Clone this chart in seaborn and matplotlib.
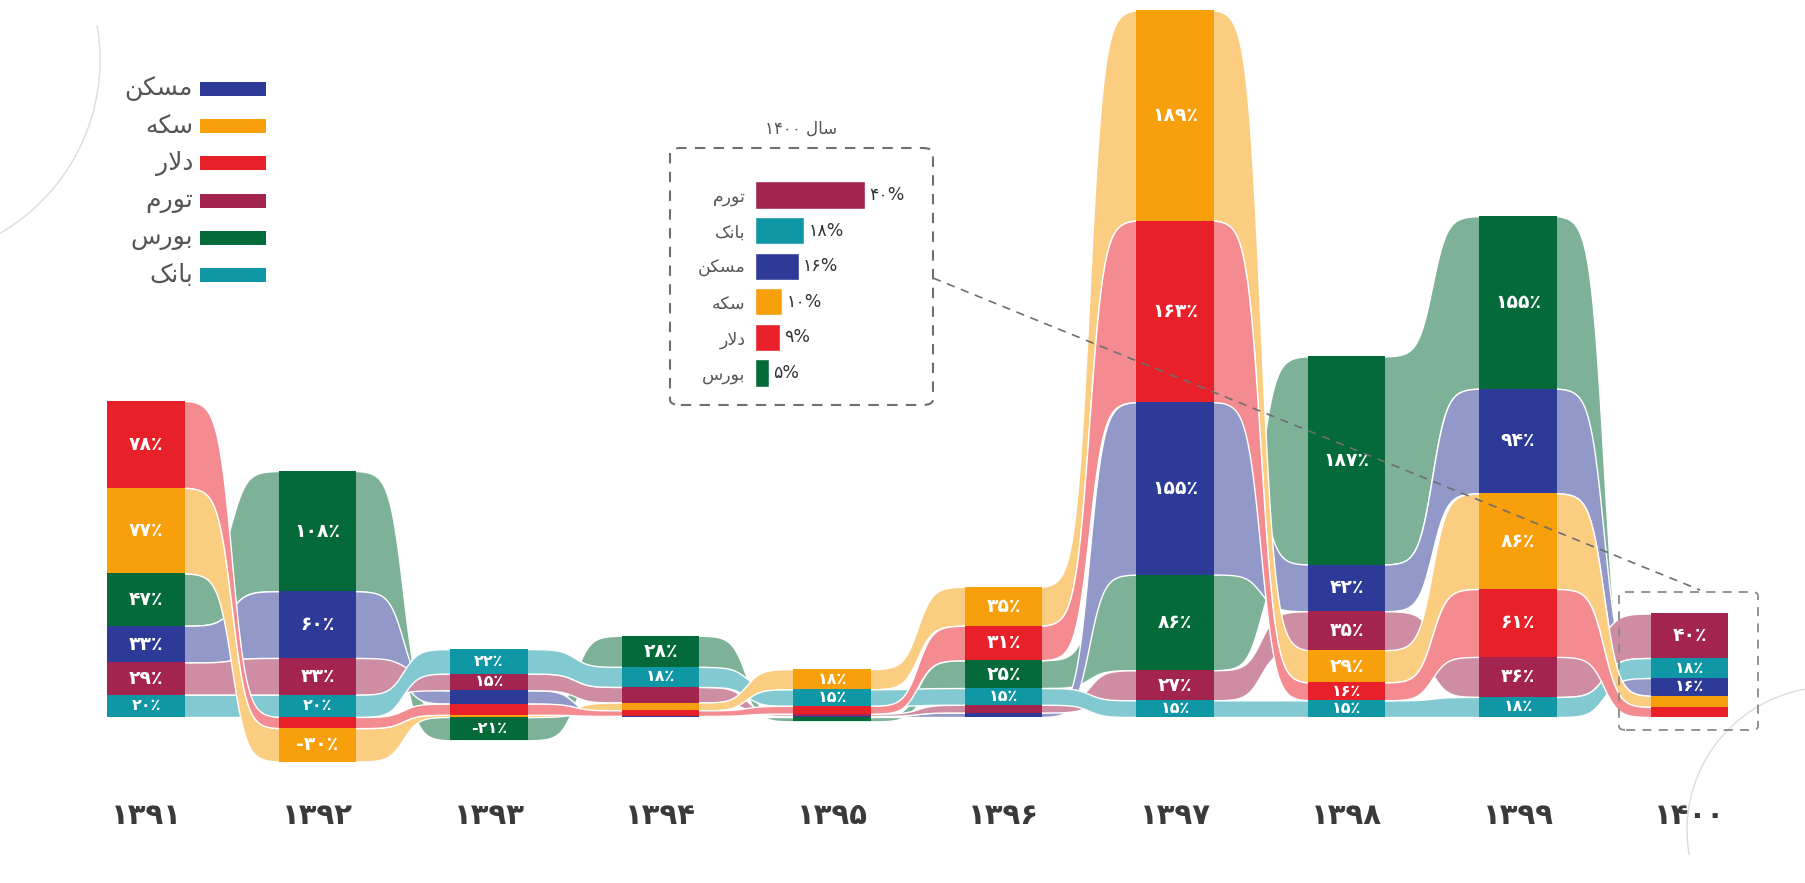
import numpy as np
import pandas as pd
import matplotlib
matplotlib.use("Agg")
import matplotlib.pyplot as plt
import seaborn as sns
from matplotlib.patches import FancyBboxPatch, Rectangle, Arc
from matplotlib.lines import Line2D

# ── DATA ─────────────────────────────────────────────────────────────────────
years = [1391, 1392, 1393, 1394, 1395, 1396, 1397, 1398, 1399, 1400]
assets = ['مسکن', 'سکه', 'دلار', 'تورم', 'بورس', 'بانک']
colors = ['#2E3A97', '#F89F0C', '#E8202A', '#A3244F', '#056A39', '#1097A6']

maskan = [33, 60, 12, 1, 1, 4, 155, 42, 94, 16]
sekke = [77, -30, 2, 7, 18, 35, 189, 29, 86, 10]
dollar = [78, -10, 10, 5, 7, 31, 163, 16, 61, 9]
tavarom = [29, 33, 15, 14, 2, 7, 27, 35, 36, 40]
bourse = [47, 108, -21, 28, -4, 25, 86, 187, 155, 0]
bank = [20, 20, 22, 18, 15, 15, 15, 15, 18, 18]

inset_names = ['تورم', 'بانک', 'مسکن', 'سکه', 'دلار', 'بورس']
inset_values = [40, 18, 16, 10, 9, 5]
inset_colors = ['#A3244F', '#1097A6', '#2E3A97', '#F89F0C', '#E8202A', '#056A39']

# ── LAYOUT (pixels) ──────────────────────────────────────────────────────────
W, H, DPI = 1806, 883, 100
X0, DX = 146, 171.5          # pixel of first year, pixels per year
Y0, DY = 717, 1.113          # pixel of zero line, pixels per percent
BAR_W = 0.45

# ── PERSIAN TEXT HELPERS ─────────────────────────────────────────────────────
FORMS = {  # isolated, final, initial, medial
    'ا': ('\uFE8D', '\uFE8E', None, None),
    'ب': ('\uFE8F', '\uFE90', '\uFE91', '\uFE92'),
    'ت': ('\uFE95', '\uFE96', '\uFE97', '\uFE98'),
    'د': ('\uFEA9', '\uFEAA', None, None),
    'ر': ('\uFEAD', '\uFEAE', None, None),
    'س': ('\uFEB1', '\uFEB2', '\uFEB3', '\uFEB4'),
    'ک': ('\uFB8E', '\uFB8F', '\uFB90', '\uFB91'),
    'ل': ('\uFEDD', '\uFEDE', '\uFEDF', '\uFEE0'),
    'م': ('\uFEE1', '\uFEE2', '\uFEE3', '\uFEE4'),
    'ن': ('\uFEE5', '\uFEE6', '\uFEE7', '\uFEE8'),
    'ه': ('\uFEE9', '\uFEEA', '\uFEEB', '\uFEEC'),
    'و': ('\uFEED', '\uFEEE', None, None),
    '\uFEFB': ('\uFEFB', '\uFEFC', None, None),
}


def fa(text):
    # join letters with presentation forms, then reverse for left-to-right drawing
    chars = list(text.replace('لا', '\uFEFB'))
    out = []
    for k, c in enumerate(chars):
        if c not in FORMS:
            out.append(c)
            continue
        prev = chars[k - 1] if k > 0 else None
        nxt = chars[k + 1] if k + 1 < len(chars) else None
        join_prev = prev in FORMS and FORMS[prev][2] is not None
        join_next = FORMS[c][2] is not None and nxt in FORMS
        iso, fin, ini, med = FORMS[c]
        if join_prev and join_next:
            out.append(med)
        elif join_prev:
            out.append(fin)
        elif join_next:
            out.append(ini)
        else:
            out.append(iso)
    return ''.join(reversed(out))


def fa_num(v):
    return str(v).translate(str.maketrans('0123456789', '۰۱۲۳۴۵۶۷۸۹'))


def pct_label(v):
    s = fa_num(abs(v)) + '٪'
    return '-' + s if v < 0 else s


def fig_xy(x, y):
    return x / W, 1 - y / H


# ── STACK POSITIONS ──────────────────────────────────────────────────────────
df = pd.DataFrame(dict(zip(assets, [maskan, sekke, dollar, tavarom, bourse, bank])), index=years)
lo = pd.DataFrame(0.0, index=years, columns=assets)
hi = pd.DataFrame(0.0, index=years, columns=assets)
for yr, row in df.iterrows():
    acc = 0.0
    for name, v in row[row >= 0].sort_values().items():
        lo.loc[yr, name], hi.loc[yr, name] = acc, acc + v
        acc += v
    acc = 0.0
    for name, v in row[row < 0].sort_values(ascending=False).items():
        hi.loc[yr, name], lo.loc[yr, name] = acc, acc + v
        acc += v


def smooth(t, k=6.5):
    return (np.tanh(k * (t - 0.5)) / np.tanh(k / 2) + 1) / 2


def ribbon(b, t, hw):
    xs, yb, yt = [], [], []
    n = len(b)
    for i in range(n):
        xs += [i - hw, i + hw]
        yb += [b[i], b[i]]
        yt += [t[i], t[i]]
        if i < n - 1:
            tt = np.linspace(0, 1, 90)[1:-1]
            s = smooth(tt)
            xs += list(i + hw + tt * (1 - 2 * hw))
            yb += list(b[i] + s * (b[i + 1] - b[i]))
            yt += list(t[i] + s * (t[i + 1] - t[i]))
    return np.array(xs), np.array(yb), np.array(yt)


def lighten(c, amt=0.5):
    r = np.array(matplotlib.colors.to_rgb(c))
    return tuple(r + (1 - r) * amt)


# ── FIGURE ───────────────────────────────────────────────────────────────────
sns.set_theme(style='white')
plt.rcParams['font.family'] = ['DejaVu Sans']

fig = plt.figure(figsize=(W / DPI, H / DPI), dpi=DPI)
fig.patch.set_facecolor('white')

ax = fig.add_axes([0, 0, 1, 1])
ax.set_xlim(-X0 / DX, (W - X0) / DX)
ax.set_ylim(-(H - Y0) / DY, Y0 / DY)
ax.axis('off')

# ribbons, drawn back to front
draw_order = ['بورس', 'مسکن', 'تورم', 'بانک', 'سکه', 'دلار']
for z, name in enumerate(draw_order):
    c = colors[assets.index(name)]
    xs, yb, yt = ribbon(lo[name].values, hi[name].values, BAR_W / 2)
    ax.fill_between(xs, yb, yt, color=lighten(c, 0.48), edgecolor='white',
                    linewidth=1.0, zorder=1 + z * 0.1)

# solid bars
xpos = np.arange(len(years))
for name, c in zip(assets, colors):
    ax.bar(xpos, hi[name].values - lo[name].values, bottom=lo[name].values,
           width=BAR_W, color=c, linewidth=0, zorder=3)

# value labels inside the bars
for i, yr in enumerate(years):
    for name in assets:
        v = df.loc[yr, name]
        if abs(v) < 15:
            continue
        fs = 13.5 if abs(v) >= 25 else 11.5
        ax.text(i, (lo.loc[yr, name] + hi.loc[yr, name]) / 2, pct_label(v),
                ha='center', va='center', color='white', fontsize=fs,
                fontweight='bold', zorder=4)

# year labels
for i, yr in enumerate(years):
    ax.text(i, -(816 - Y0) / DY, fa_num(yr), ha='center', va='center',
            fontsize=21, color='#3a3a3a', fontweight='bold', zorder=4)

# ── LEGEND ───────────────────────────────────────────────────────────────────
for k, (name, c) in enumerate(zip(assets, colors)):
    yc = 89 + 37.2 * k
    x, y = fig_xy(200, yc + 7)
    fig.patches.append(Rectangle((x, y), 66 / W, 14 / H, transform=fig.transFigure,
                                 facecolor=c, edgecolor='none', zorder=5))
    tx, ty = fig_xy(193, yc)
    fig.text(tx, ty, fa(name), ha='right', va='center', fontsize=18, color='#555555')

# ── INSET: year 1400 ─────────────────────────────────────────────────────────
ax_in = fig.add_axes([755 / W, 1 - 390.8 / H, 165 / W, 213.6 / H])
inset_df = pd.DataFrame({'name': [fa(n) for n in inset_names], 'value': inset_values})
sns.barplot(data=inset_df, x='value', y='name', hue='name', palette=inset_colors,
            legend=False, orient='h', width=0.76, saturation=1, ax=ax_in)
ax_in.set_xlim(0, 60)
ax_in.set_ylim(5.5, -0.5)
ax_in.set_xticks([])
ax_in.set_xlabel('')
ax_in.set_ylabel('')
ax_in.patch.set_alpha(0)
for sp in ax_in.spines.values():
    sp.set_visible(False)
ax_in.tick_params(axis='y', length=0, pad=7, labelsize=12.5, labelcolor='#555555')
for k, v in enumerate(inset_values):
    ax_in.text(v + 1.5, k, fa_num(v) + '%', ha='left', va='center',
               fontsize=12.5, color='#333333')

tx, ty = fig_xy(801, 129)
fig.text(tx, ty, fa_num(1400) + ' ' + fa('سال'), ha='center', va='center',
         fontsize=12, color='#555555')

# dashed frames and connector
x, y = fig_xy(670, 405)
fig.patches.append(FancyBboxPatch((x, y), 263 / W, 257 / H, transform=fig.transFigure,
                                  boxstyle='round,pad=0,rounding_size=0.006',
                                  fill=False, edgecolor='#6f6f6f', linewidth=1.5,
                                  linestyle=(0, (5, 4)), zorder=6))
x, y = fig_xy(1619, 730)
fig.patches.append(FancyBboxPatch((x, y), 139 / W, 138 / H, transform=fig.transFigure,
                                  boxstyle='round,pad=0,rounding_size=0.004',
                                  fill=False, edgecolor='#8a8a8a', linewidth=1.3,
                                  linestyle=(0, (5, 4)), zorder=6))
(x1, y1), (x2, y2) = fig_xy(933, 278), fig_xy(1700, 590)
fig.lines.append(Line2D([x1, x2], [y1, y2], transform=fig.transFigure,
                        color='#6f6f6f', linewidth=1.2, linestyle=(0, (5, 4)), zorder=6))

# decorative thin circles
cx, cy = fig_xy(-100, 60)
fig.patches.append(Arc((cx, cy), 400 / W, 400 / H, theta1=-80, theta2=20,
                       transform=fig.transFigure, color='#dcdcdc', linewidth=1.0))
cx, cy = fig_xy(1830, 830)
fig.patches.append(Arc((cx, cy), 286 / W, 286 / H, theta1=95, theta2=200,
                       transform=fig.transFigure, color='#dcdcdc', linewidth=1.0))

fig.savefig('out.png', dpi=DPI, facecolor='white')
